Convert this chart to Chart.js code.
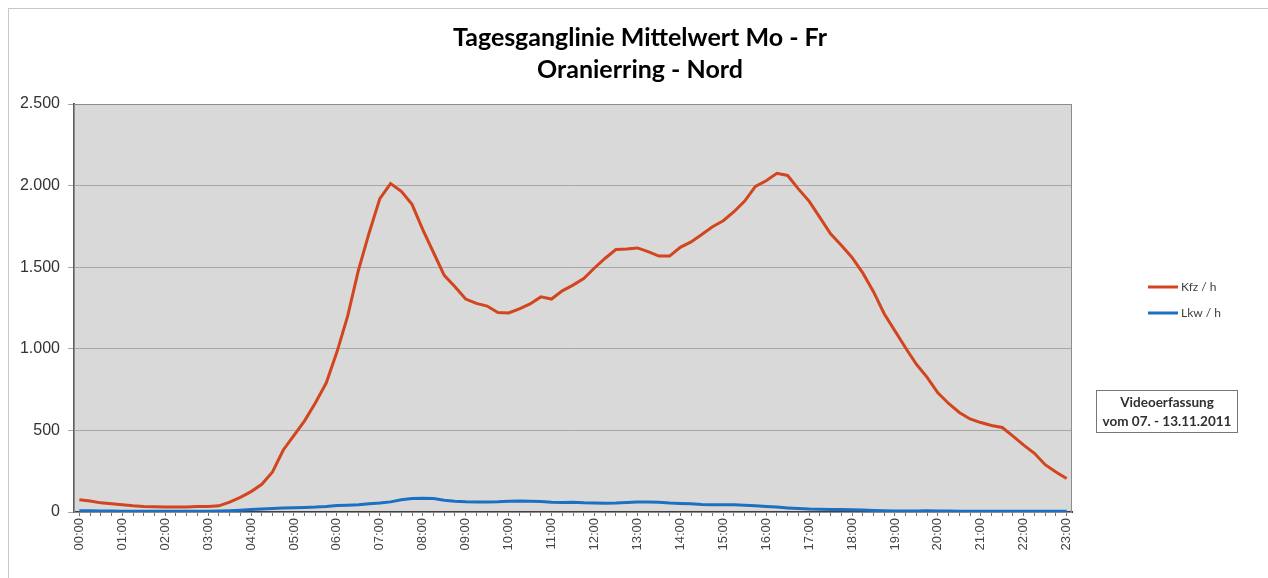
<!DOCTYPE html>
<html>
<head>
<meta charset="utf-8">
<script src="https://cdn.jsdelivr.net/npm/chart.js@4/dist/chart.umd.min.js"></script>
<style>
    html, body { margin: 0; padding: 0; background: #fff; overflow: hidden; }
    #frame { position: absolute; left: 8px; top: 8px; width: 1300px; height: 600px; border: 1px solid #c8c8c8; }
    #wrap { position: absolute; left: 0; top: 0; width: 1268px; height: 578px; }
</style>
</head>
<body>
<div id="frame"></div>
<div id="wrap"><canvas id="chart" width="1268" height="578"></canvas></div>
<script>
// Chart data (15-minute steps, 00:00 - 23:00)
var titleLines = ['Tagesganglinie Mittelwert Mo - Fr', 'Oranierring - Nord'];
var hourLabels = ['00:00', '01:00', '02:00', '03:00', '04:00', '05:00', '06:00', '07:00',
    '08:00', '09:00', '10:00', '11:00', '12:00', '13:00', '14:00', '15:00',
    '16:00', '17:00', '18:00', '19:00', '20:00', '21:00', '22:00', '23:00'];
var quarterMinutes = ['00', '15', '30', '45'];
var yTicks = [0, 500, 1000, 1500, 2000, 2500];

var kfzValues = [
    75, 68, 56, 50,         // 00
    44, 38, 34, 32,         // 01
    30, 30, 31, 33,         // 02
    34, 38, 60, 90,         // 03
    125, 170, 245, 380,     // 04
    470, 560, 670, 790,     // 05
    980, 1200, 1480, 1710,  // 06
    1920, 2012, 1965, 1885, // 07
    1730, 1590, 1450, 1380, // 08
    1305, 1278, 1262, 1222, // 09
    1220, 1245, 1275, 1318, // 10
    1305, 1355, 1390, 1430, // 11
    1495, 1555, 1608, 1612, // 12
    1618, 1595, 1568, 1568, // 13
    1622, 1655, 1700, 1748, // 14
    1785, 1840, 1905, 1995, // 15
    2030, 2075, 2062, 1980, // 16
    1905, 1805, 1705, 1635, // 17
    1560, 1465, 1350, 1215, // 18
    1110, 1005, 905, 825,   // 19
    730, 665, 610, 570,     // 20
    548, 530, 518, 465,     // 21
    410, 360, 290, 245,     // 22
    205                     // 23
];

var lkwValues = [
    8, 7, 6, 6,     // 00
    5, 5, 4, 4,     // 01
    4, 4, 4, 5,     // 02
    5, 6, 8, 11,    // 03
    15, 19, 22, 24, // 04
    26, 28, 30, 34, // 05
    40, 42, 45, 50, // 06
    55, 62, 75, 82, // 07
    85, 82, 72, 66, // 08
    63, 62, 62, 63, // 09
    66, 67, 66, 65, // 10
    60, 58, 60, 56, // 11
    55, 54, 55, 58, // 12
    61, 62, 60, 55, // 13
    52, 50, 46, 44, // 14
    45, 44, 42, 38, // 15
    34, 30, 25, 21, // 16
    18, 17, 16, 15, // 17
    14, 12, 9, 7,   // 18
    6, 6, 6, 7,     // 19
    6, 6, 5, 5,     // 20
    5, 5, 5, 5,     // 21
    5, 5, 4, 4,     // 22
    4               // 23
];

var seriesNames = ['Kfz / h', 'Lkw / h'];
var seriesColors = ['#d2451e', '#1b70c4'];
var noteLines = ['Videoerfassung', 'vom 07. - 13.11.2011'];

// Build the category list from hours and quarter minutes
var categories = [];
hourLabels.forEach(function(h, i) {
    quarterMinutes.forEach(function(m) {
        if (i < hourLabels.length - 1 || m === '00') {
            categories.push(h.slice(0, 3) + m);
        }
    });
});

var plotDecor = {
    id: 'plotDecor',
    beforeDraw: function(chart) {
        var ctx = chart.ctx;
        var a = chart.chartArea;
        ctx.save();
        ctx.fillStyle = '#d9d9d9';
        ctx.fillRect(a.left, a.top, a.right - a.left, a.bottom - a.top);
        ctx.restore();
    },
    beforeDatasetsDraw: function(chart) {
        var ctx = chart.ctx;
        var a = chart.chartArea;
        ctx.save();
        ctx.strokeStyle = '#8c8c8c';
        ctx.lineWidth = 1;
        ctx.strokeRect(a.left + 0.5, a.top + 0.5, a.right - a.left - 1, a.bottom - a.top);
        ctx.restore();
    },
    afterDraw: function(chart) {
        var ctx = chart.ctx;
        ctx.save();
        // legend
        ctx.font = '12px Lato';
        ctx.textBaseline = 'middle';
        chart.data.datasets.forEach(function(ds, i) {
            var y = 287 + i * 26;
            ctx.strokeStyle = ds.borderColor;
            ctx.lineWidth = 3;
            ctx.beginPath();
            ctx.moveTo(1148, y);
            ctx.lineTo(1178, y);
            ctx.stroke();
            ctx.fillStyle = '#404040';
            ctx.fillText(ds.label, 1181, y);
        });
        // note box
        ctx.fillStyle = '#fff';
        ctx.fillRect(1096, 390, 141, 42);
        ctx.strokeStyle = '#777';
        ctx.lineWidth = 1;
        ctx.strokeRect(1096.5, 390.5, 141, 42);
        ctx.fillStyle = '#303030';
        ctx.font = 'bold 13.5px Lato';
        ctx.textAlign = 'center';
        ctx.fillText(noteLines[0], 1167, 403);
        ctx.fillText(noteLines[1], 1167, 422);
        ctx.restore();
    }
};

var ctx = document.getElementById('chart').getContext('2d');
new Chart(ctx, {
    type: 'line',
    data: {
        labels: categories,
        datasets: [
            {
                label: seriesNames[0],
                data: kfzValues,
                borderColor: seriesColors[0],
                borderWidth: 3,
                pointRadius: 0,
                tension: 0
            },
            {
                label: seriesNames[1],
                data: lkwValues,
                borderColor: seriesColors[1],
                borderWidth: 3,
                pointRadius: 0,
                tension: 0
            }
        ]
    },
    options: {
        responsive: false,
        animation: false,
        locale: 'de-DE',
        layout: { padding: { left: 12, right: 0, top: 0, bottom: 0 } },
        plugins: {
            legend: { display: false },
            tooltip: { enabled: false },
            title: {
                display: true,
                text: titleLines,
                color: '#000',
                font: { family: 'Lato', size: 25, weight: 'bold', lineHeight: 1.28 },
                padding: { top: 22, bottom: 18 }
            }
        },
        scales: {
            x: {
                offset: true,
                afterFit: function(scale) { scale.height = 66; },
                grid: {
                    offset: false,
                    drawOnChartArea: false,
                    tickLength: 4,
                    color: '#707070'
                },
                border: { color: '#404040', width: 2 },
                ticks: {
                    autoSkip: false,
                    minRotation: 90,
                    maxRotation: 90,
                    padding: 2,
                    color: '#444',
                    font: { family: 'Liberation Sans', size: 13 },
                    callback: function(value, index) {
                        return index % 4 === 0 ? categories[index] : '';
                    }
                }
            },
            y: {
                min: yTicks[0],
                max: yTicks[yTicks.length - 1],
                afterFit: function(scale) { scale.width = 62; },
                afterBuildTicks: function(scale) {
                    scale.ticks = yTicks.map(function(v) { return { value: v }; });
                },
                grid: { color: '#a6a6a6', tickLength: 6 },
                border: { color: '#606060', width: 2 },
                ticks: {
                    padding: 8,
                    color: '#333',
                    font: { family: 'Liberation Sans', size: 16 }
                }
            },
            // empty right-hand space for legend and note box
            side: {
                type: 'linear',
                position: 'right',
                afterFit: function(scale) { scale.width = 196; },
                grid: { display: false },
                border: { display: false },
                ticks: { display: false }
            }
        }
    },
    plugins: [plotDecor]
});
</script>
</body>
</html>
